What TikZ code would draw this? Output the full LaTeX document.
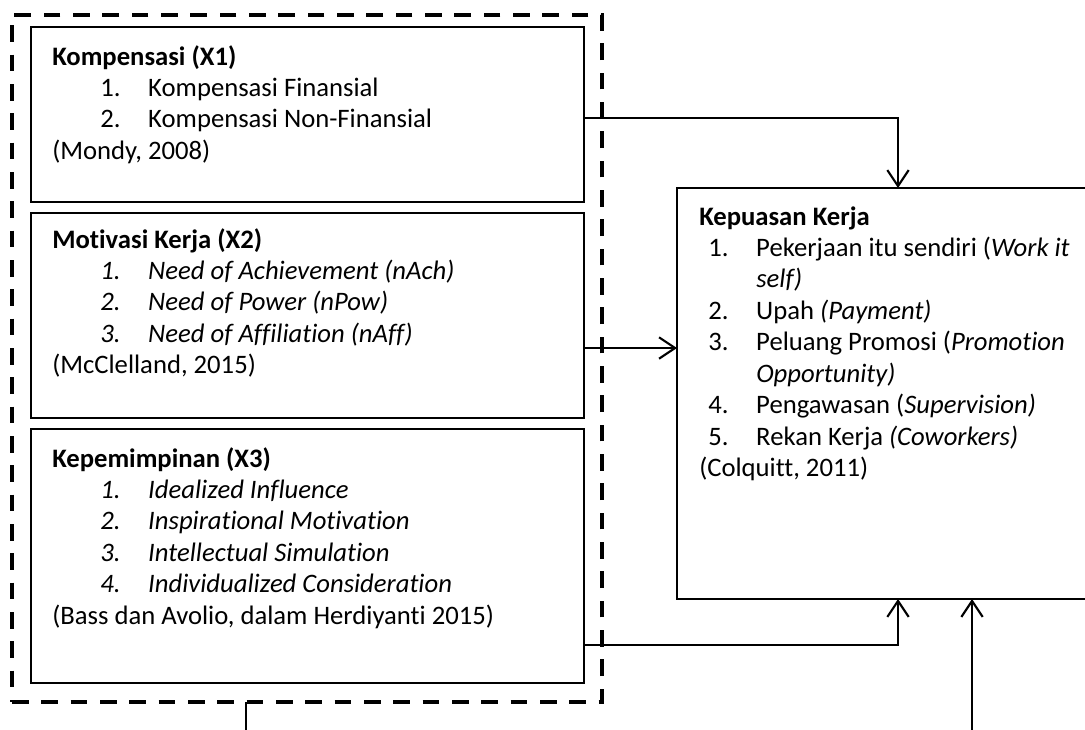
\documentclass[tikz,border=0pt]{standalone}
\usepackage{fontspec}
\setmainfont{Carlito}[Ligatures=NoCommon]
\usetikzlibrary{arrows.meta,fit}
\newcommand{\litem}[2]{\hspace*{36pt}\makebox[36pt][l]{#1}#2}
\newcommand{\kitem}[2]{\hspace*{6.75pt}\makebox[36pt][l]{#1}#2}
\newcommand{\kcont}[1]{\hspace*{42.75pt}#1}
\begin{document}
\begin{tikzpicture}[x=0.75pt,y=-0.75pt,
  box/.style={draw=black,line width=1.9pt,inner sep=0pt,outer sep=0pt},
  grp/.style={draw=black,line width=3pt,dash pattern=on 12.5pt off 9.5pt,inner sep=0pt,outer sep=0pt},
  txt/.style={anchor=base west,inner sep=0pt,font=\fontsize{20}{23.6}\selectfont},
  conn/.style={draw=black,line width=1.6pt,-{Straight Barb[length=12pt,width=16pt,line width=1.6pt]}},
  plain/.style={draw=black,line width=1.6pt}]
\useasboundingbox (0,0) rectangle (1085,729);
% group (dashed) and boxes
\node[grp,fit={(12,15) (602,702)}] (G) {};
\node[box,fit={(31,27) (584,202)}] (B1) {};
\node[box,fit={(31,213) (584,418)}] (B2) {};
\node[box,fit={(31,429) (584,683)}] (B3) {};
\node[box,fit={(677,188) (1092,599)}] (K) {};
% texts
\node[txt] (T1) at (52,65) {\begin{minipage}[t]{500pt}
\textbf{Kompensasi (X1)}\\
\litem{1.}{Kompensasi Finansial}\\
\litem{2.}{Kompensasi Non-Finansial}\\
(Mondy, 2008)\end{minipage}};
\node[txt] (T2) at (52,248) {\begin{minipage}[t]{500pt}
\textbf{Motivasi Kerja (X2)}\\
\litem{\textit{1.}}{\textit{Need of Achievement (nAch)}}\\
\litem{\textit{2.}}{\textit{Need of Power (nPow)}}\\
\litem{\textit{3.}}{\textit{Need of Affiliation (nAff)}}\\
(McClelland, 2015)\end{minipage}};
\node[txt] (T3) at (52,467) {\begin{minipage}[t]{500pt}
\textbf{Kepemimpinan (X3)}\\
\litem{\textit{1.}}{\textit{Idealized Influence}}\\
\litem{\textit{2.}}{\textit{Inspirational Motivation}}\\
\litem{\textit{3.}}{\textit{Intellectual Simulation}}\\
\litem{\textit{4.}}{\textit{Individualized Consideration}}\\
(Bass dan Avolio, dalam Herdiyanti 2015)\end{minipage}};
\node[txt] (TK) at (699,225) {\begin{minipage}[t]{380pt}
\textbf{Kepuasan Kerja}\\
\kitem{1.}{Pekerjaan itu sendiri (\textit{Work it}}\\
\kcont{\textit{self)}}\\
\kitem{2.}{Upah \textit{(Payment)}}\\
\kitem{3.}{Peluang Promosi (\textit{Promotion}}\\
\kcont{\textit{Opportunity)}}\\
\kitem{4.}{Pengawasan (\textit{Supervision)}}\\
\kitem{5.}{Rekan Kerja \textit{(Coworkers)}}\\
(Colquitt, 2011)\end{minipage}};
% helper coordinates
\coordinate (xa) at (898,0);
\coordinate (xb) at (972,0);
\coordinate (xs) at (246,0);
\coordinate (ya) at (0,118);
\coordinate (yb) at (0,348);
\coordinate (yc) at (0,645);
\coordinate (endK) at (972,735);
\coordinate (endG) at (246,735);
% connectors
\draw[conn] (B1.east |- ya) -| (K.north -| xa);
\draw[conn] (B2.east |- yb) -- (K.west |- yb);
\draw[conn] (B3.east |- yc) -| (K.south -| xa);
\draw[conn] (endK) -- (K.south -| xb);
\draw[plain] (G.south -| xs) -- (endG);
\end{tikzpicture}
\end{document}
